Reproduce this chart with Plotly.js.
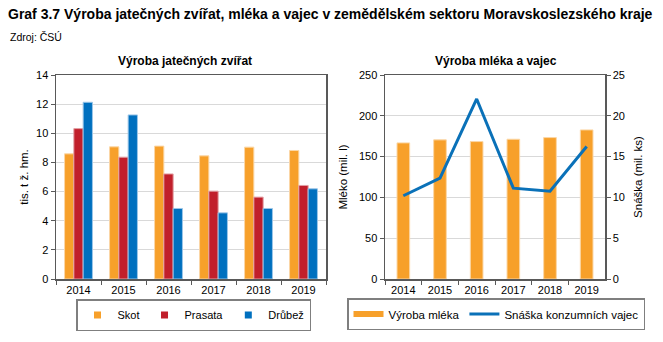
<!DOCTYPE html>
<html>
<head>
<meta charset="utf-8">
<script src="https://cdn.plot.ly/plotly-3.0.1.min.js"></script>
<style>
html,body{margin:0;padding:0;background:#fff;}
#chart{width:663px;height:342px;}
</style>
</head>
<body>
<div id="chart"></div>
<script>
const years = ['2014', '2015', '2016', '2017', '2018', '2019'];
const skot = [8.59, 9.07, 9.12, 8.45, 9.05, 8.82];
const prasata = [10.32, 8.36, 7.21, 6.03, 5.62, 6.42];
const drubez = [12.13, 11.26, 4.84, 4.54, 4.84, 6.19];
const mleko = [166.8, 170.5, 168.4, 171.3, 173.3, 182.7];
const vejce = [10.2, 12.36, 22.06, 11.13, 10.77, 16.23];

const F = 'Liberation Sans, Arial, sans-serif';
const cOrange = '#F7A02A', cRed = '#C11F2B', cBlue = '#0070BF', cLine = '#0A71B8';

function legendDummy(name, color, leg, xa, ya) {
  return {type:'scatter', mode:'markers', name:name, x:[null], y:[null], xaxis:xa, yaxis:ya, legend:leg,
    marker:{symbol:'square', size:7, color:color}, hoverinfo:'skip'};
}

const traces = [
  {type:'bar', name:'Skot', x:years, y:skot, xaxis:'x', yaxis:'y', showlegend:false,
   marker:{color:cOrange, line:{color:'#FBD7A6', width:1}}},
  {type:'bar', name:'Prasata', x:years, y:prasata, xaxis:'x', yaxis:'y', showlegend:false,
   marker:{color:cRed, line:{color:'#E2A0A4', width:1}}},
  {type:'bar', name:'Drůbež', x:years, y:drubez, xaxis:'x', yaxis:'y', showlegend:false,
   marker:{color:cBlue, line:{color:'#9CC6E8', width:1}}},
  legendDummy('Skot', cOrange, 'legend', 'x', 'y'),
  legendDummy('Prasata', cRed, 'legend', 'x', 'y'),
  legendDummy('Drůbež', cBlue, 'legend', 'x', 'y'),
  {type:'bar', name:'Výroba mléka', x:years, y:mleko, xaxis:'x2', yaxis:'y2', width:0.345, offsetgroup:'m',
   marker:{color:cOrange, line:{color:'#FBD7A6', width:1}}, showlegend:false},
  {type:'scatter', mode:'lines', name:'Výroba mléka', x:[null], y:[null], xaxis:'x2', yaxis:'y2', legend:'legend2',
   line:{color:cOrange, width:6}, hoverinfo:'skip'},
  {type:'scatter', mode:'lines', name:'Snáška konzumních vajec', x:years, y:vejce, xaxis:'x2', yaxis:'y3', legend:'legend2',
   line:{color:cLine, width:3}}
];

const tickF = {family:F, size:11, color:'#000'};
const axLine = '#595959';
const yDom = [0.1842, 0.7807];

const layout = {
  width:663, height:342,
  margin:{l:0, r:0, t:0, b:0},
  paper_bgcolor:'#fff', plot_bgcolor:'#fff',
  font:{family:F, size:11, color:'#000'},
  barmode:'group', bargap:0.38, bargroupgap:0,
  title:{text:'<b>Graf 3.7 Výroba jatečných zvířat, mléka a vajec v zemědělském sektoru Moravskoslezského kraje</b>',
    font:{family:F, size:14, color:'#000'}, x:8/663, xanchor:'left', xref:'paper', y:1-9/342, yanchor:'top', yref:'container'},
  xaxis:{domain:[56/663, 326/663], anchor:'y', type:'category', tickson:'boundaries', ticks:'outside', ticklen:4,
    tickcolor:axLine, showline:true, linecolor:axLine, linewidth:1.5, mirror:true, showgrid:false, tickfont:tickF},
  yaxis:{domain:yDom, anchor:'x', range:[0,14], dtick:2, ticks:'outside', ticklen:4, tickcolor:axLine,
    showline:true, linecolor:axLine, linewidth:1.5, mirror:true, gridcolor:'#D9D9D9', gridwidth:1, zeroline:false,
    tickfont:tickF, title:{text:'tis. t ž. hm.', font:{family:F, size:11.5, color:'#000'}, standoff:5}},
  xaxis2:{domain:[385/663, 605/663], anchor:'y2', type:'category', tickson:'boundaries', ticks:'outside', ticklen:4,
    tickcolor:axLine, showline:true, linecolor:axLine, linewidth:1.5, mirror:true, showgrid:false, tickfont:tickF},
  yaxis2:{domain:yDom, anchor:'x2', range:[0,250], dtick:50, ticks:'outside', ticklen:4, tickcolor:axLine,
    showline:true, linecolor:axLine, linewidth:1.5, gridcolor:'#D9D9D9', gridwidth:1, zeroline:false,
    tickfont:tickF, title:{text:'Mléko (mil. l)', font:{family:F, size:11.5, color:'#000'}, standoff:9}},
  yaxis3:{domain:yDom, anchor:'x2', overlaying:'y2', side:'right', range:[0,25], dtick:5, ticks:'outside', ticklen:4,
    tickcolor:axLine, showline:true, linecolor:axLine, linewidth:1.5, showgrid:false, zeroline:false,
    tickfont:tickF, title:{text:'Snáška (mil. ks)', font:{family:F, size:11.5, color:'#000'}, standoff:10}},
  legend:{orientation:'h', x:193.5/663, xanchor:'center', y:(342-315)/342, yanchor:'middle',
    bordercolor:'#7F7F7F', borderwidth:1.5, bgcolor:'#fff', font:{family:F, size:11, color:'#000'},
    itemwidth:30, traceorder:'normal'},
  legend2:{orientation:'h', x:496/663, xanchor:'center', y:(342-314)/342, yanchor:'middle',
    bordercolor:'#7F7F7F', borderwidth:1.5, bgcolor:'#fff', font:{family:F, size:11.5, color:'#000'},
    itemwidth:30, traceorder:'normal'},
  annotations:[
    {text:'Zdroj: ČSÚ', x:8/663, xref:'paper', xanchor:'left', y:1-37/342, yref:'paper', yanchor:'middle',
     showarrow:false, font:{family:F, size:10.5, color:'#000'}},
    {text:'<b>Výroba jatečných zvířat</b>', x:185/663, xref:'paper', xanchor:'center', y:1-61/342, yref:'paper', yanchor:'middle',
     showarrow:false, font:{family:F, size:12, color:'#000'}},
    {text:'<b>Výroba mléka a vajec</b>', x:496/663, xref:'paper', xanchor:'center', y:1-61/342, yref:'paper', yanchor:'middle',
     showarrow:false, font:{family:F, size:12, color:'#000'}}
  ]
};

Plotly.newPlot('chart', traces, layout, {staticPlot:true, displayModeBar:false});
</script>
</body>
</html>
